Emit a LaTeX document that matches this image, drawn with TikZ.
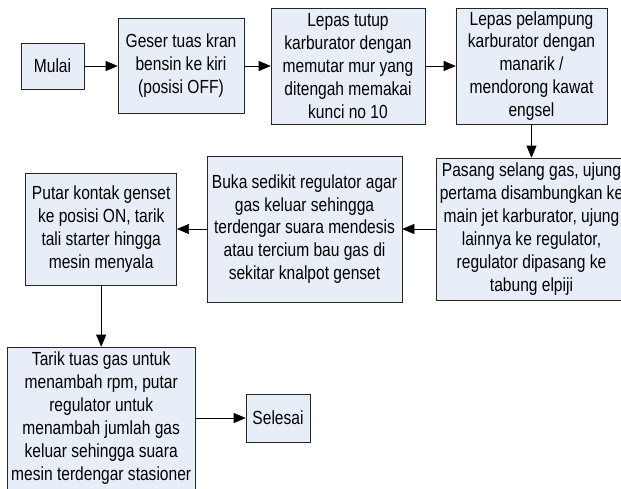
\documentclass[tikz,border=0pt]{standalone}
\usepackage{fontspec}
\setmainfont[FakeStretch=0.82]{Liberation Sans}
\usetikzlibrary{arrows.meta}
\definecolor{boxfill}{RGB}{232,238,247}

\begin{document}
\begin{tikzpicture}[proc_node/.style={rectangle,draw=black!85,fill=boxfill,align=center,inner sep=2pt,font=\fontsize{13.5}{16.3}\selectfont},
    flow/.style={-{Triangle[length=0.3cm,width=0.25cm]},black}]
    \useasboundingbox (0,0) rectangle (15.525,-12.2);
    \node[proc_node,minimum width=1.575cm,minimum height=1.15cm] (1) at (1.3125,-1.65) {Mulai};
    \node[proc_node,minimum width=3.15cm,minimum height=2.375cm] (2) at (4.525,-1.65) {Geser tuas kran\\bensin ke kiri\\(posisi OFF)};
    \node[proc_node,minimum width=3.85cm,minimum height=2.9cm] (3) at (8.7,-1.65) {Lepas tutup\\karburator dengan\\memutar mur yang\\ditengah memakai\\kunci no 10};
    \node[proc_node,minimum width=3.775cm,minimum height=2.9cm] (4) at (13.2875,-1.65) {Lepas pelampung\\karburator dengan\\manarik /\\mendorong kawat\\engsel};
    \node[proc_node,minimum width=4.75cm,minimum height=3.55cm] (5) at (13.2875,-5.725) {Pasang selang gas, ujung\\pertama disambungkan ke\\main jet karburator, ujung\\lainnya ke regulator,\\regulator dipasang ke\\tabung elpiji};
    \node[proc_node,minimum width=4.875cm,minimum height=3.65cm] (6) at (7.6125,-5.725) {Buka sedikit regulator agar\\gas keluar sehingga\\terdengar suara mendesis\\atau tercium bau gas di\\sekitar knalpot genset};
    \node[proc_node,minimum width=3.775cm,minimum height=2.8cm] (7) at (2.53,-5.725) {Putar kontak genset\\ke posisi ON, tarik\\tali starter hingga\\mesin menyala};
    \node[proc_node,minimum width=4.7cm,minimum height=3.55cm] (8) at (2.53,-10.45) {Tarik tuas gas untuk\\menambah rpm, putar\\regulator untuk\\menambah jumlah gas\\keluar sehingga suara\\mesin terdengar stasioner};
    \node[proc_node,minimum width=1.6cm,minimum height=1.2cm] (9) at (6.95,-10.45) {Selesai};
    \draw[flow] (1) -- (2);
    \draw[flow] (2) -- (3);
    \draw[flow] (3) -- (4);
    \draw[flow] (4) -- (5);
    \draw[flow] (5) -- (6);
    \draw[flow] (6) -- (7);
    \draw[flow] (7) -- (8);
    \draw[flow] (8) -- (9);
\end{tikzpicture}
\end{document}
